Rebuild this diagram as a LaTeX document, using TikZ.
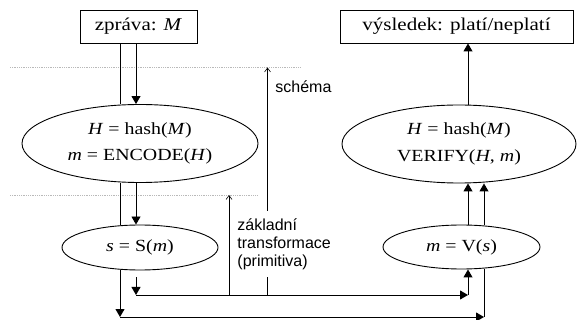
\documentclass[tikz,border=0pt]{standalone}
\usepackage{fontspec}
\setmainfont{Liberation Serif}[FakeStretch=1.17]
\newfontfamily\sansx{Liberation Sans}
\usetikzlibrary{arrows.meta,shapes.geometric}
\begin{document}
\begin{tikzpicture}[x=1pt,y=-1pt,
  line width=0.9pt,
  tri/.style={-{Triangle[length=8pt,width=9pt]}},
  thinarr/.style={line width=0.6pt,-{Straight Barb[length=4pt,width=6pt]}},
  boxnode/.style={draw, rectangle, inner sep=0pt, font=\fontsize{18}{20}\selectfont},
  ell/.style={draw, ellipse, inner sep=0pt, align=center, font=\fontsize{17}{26.5}\selectfont},
  guide/.style={draw=gray!55, line width=0.8pt, densely dotted},
  lbl/.style={font=\sansx\fontsize{16}{18}\selectfont, align=left, inner sep=0pt}
]
\useasboundingbox (0,0) rectangle (578,320);

% main nodes
\node[boxnode, minimum width=117pt, minimum height=33pt] (msg) at (138.5,26.5) {zpráva: \textit{M}};
\node[boxnode, minimum width=233pt, minimum height=33pt] (res) at (456.5,26.5) {výsledek: platí/neplatí};
\node[ell, minimum width=236pt, minimum height=78pt] (enc) at (140,143.5) {\textit{H} = hash(\textit{M})\\ \textit{m} = ENCODE(\textit{H})};
\node[ell, minimum width=234pt, minimum height=78pt] (ver) at (459,144) {\textit{H} = hash(\textit{M})\\ VERIFY(\textit{H}, \textit{m})};
\node[ell, minimum width=156pt, minimum height=45pt] (sig) at (140,247.5) {\textit{s} = S(\textit{m})};
\node[ell, minimum width=157pt, minimum height=44pt] (vf) at (461.5,247) {\textit{m} = V(\textit{s})};

% helper coordinates
\coordinate (xa) at (120,0);
\coordinate (xb) at (136,0);
\coordinate (xc) at (468,0);
\coordinate (xd) at (484,0);
\coordinate (xs) at (267.5,0);
\coordinate (xz) at (229,0);
\coordinate (yU) at (0,295);
\coordinate (yL) at (0,317);
\coordinate (g1) at (0,67.5);
\coordinate (g2) at (0,195);
\coordinate (g1a) at (10,67.5);
\coordinate (g1b) at (300,67.5);
\coordinate (g2a) at (10,195);
\coordinate (g2b) at (258,195);

% dotted guides
\draw[guide] (g1a) -- (g1b);
\draw[guide] (g2a) -- (g2b);

% connectors
\draw (msg.south -| xa) -- (enc.north -| xa);
\draw[tri] (msg.south -| xb) -- (enc.north -| xb);
\draw (enc.south -| xa) -- (sig.north -| xa);
\draw[tri] (enc.south -| xb) -- (sig.north -| xb);
\draw[tri] (sig.south -| xa) -- (yL -| xa);
\draw[tri, shorten <=7pt] (sig.south -| xb) -- (yU -| xb);
\draw[tri] (yU -| xb) -- (yU -| xc);
\draw[tri] (yU -| xc) -- (vf.south -| xc);
\draw[tri] (yL -| xa) -- (yL -| xd);
\draw (yL -| xd) -- (vf.south -| xd);
\draw[tri] (vf.north -| xc) -- (ver.south -| xc);
\draw[tri] (vf.north -| xd) -- (ver.south -| xd);
\draw[tri] (ver.north -| xc) -- (res.south -| xc);

% scheme arrows
\draw[thinarr] (yU -| xs) -- (g1 -| xs);
\draw[thinarr] (yU -| xz) -- (g2 -| xz);

% labels
\node[lbl, anchor=base west] (schema) at (275,93) {schéma};
\node[lbl, anchor=west, fill=white, inner xsep=2pt, inner ysep=7pt] (zt) at (235,244) {základní\\transformace\\(primitiva)};
\end{tikzpicture}
\end{document}
